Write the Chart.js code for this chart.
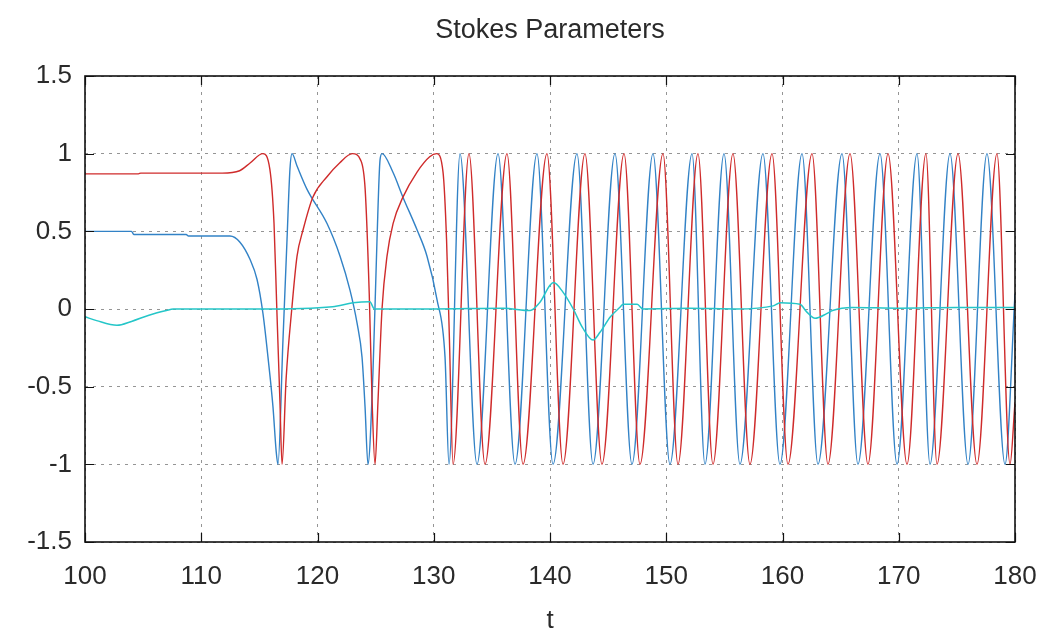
<!DOCTYPE html>
<html>
<head>
<meta charset="utf-8">
<title>Stokes Parameters</title>
<script src="https://cdn.jsdelivr.net/npm/chart.js@4/dist/chart.umd.min.js"></script>
<style>
  html, body { margin: 0; padding: 0; background: #fff; }
  #wrap { width: 1043px; height: 637px; }
</style>
</head>
<body>
<div id="wrap"><canvas id="chart" width="1043" height="637"></canvas></div>
<script>
// Axis ticks
const xTicks = [100, 110, 120, 130, 140, 150, 160, 170, 180];
const yTicks = [-1.5, -1, -0.5, 0, 0.5, 1, 1.5];
const xTickLabels = ['100', '110', '120', '130', '140', '150', '160', '170', '180'];
const yTickLabels = ['-1.5', '-1', '-0.5', '0', '0.5', '1', '1.5'];

// S1 (red)
const s1T = [100, 104.6, 104.8, 111.8, 113.3, 114.2, 115.3, 115.9, 116.26, 116.5, 116.77, 116.95,
  117.3, 117.8, 118.24, 118.76, 119.6, 120.8, 121.9, 123.0, 123.7, 124.1, 124.45, 124.7, 124.95,
  125.2, 125.55, 125.98, 126.5, 127.35, 128.55, 129.65, 130.25, 130.8, 131.1, 131.35, 131.66,
  133.03, 134.41, 136.30, 137.68, 139.74, 141.12, 143.01, 144.47, 146.37, 147.74, 149.72, 151.01,
  152.73, 154.02, 155.74, 157.20, 159.10, 160.47, 162.54, 163.91, 165.81, 167.35, 169.08, 170.71,
  172.34, 173.29, 175.10, 176.73, 178.45, 179.57, 180];
const s1V = [0.87, 0.87, 0.875, 0.875, 0.89, 0.94, 1.0, 0.9, 0.55, 0.0, -0.6, -1.0,
  -0.45, 0.01, 0.34, 0.51, 0.72, 0.85, 0.94, 1.0, 0.96, 0.77, 0.1, -0.6, -1.0,
  -0.6, 0.0, 0.34, 0.55, 0.72, 0.88, 0.98, 1.0, 0.88, 0.45, -0.2, -1.0,
  1, -1, 1, -1, 1, -1, 1, -1, 1, -1, 1, -1,
  1, -1, 1, -1, 1, -1, 1, -1, 1, -1, 1, -1,
  1, -1, 1, -1, 1, -1, -0.6];

// S2 (blue)
const s2T = [100, 104.0, 104.2, 108.7, 108.9, 112.47, 113.33, 114.19, 114.8, 115.31, 115.74, 116.17,
  116.45, 116.6, 117.03, 117.38, 117.63, 117.81, 118.24, 119.1, 120.82, 121.94, 122.8,
  123.4, 123.83, 124.09, 124.34, 124.77, 125.12, 125.38, 125.55, 126.49, 127.35, 128.56, 129.42,
  130.28, 130.97, 131.31,
  132.26, 133.72, 135.53, 136.99, 138.88, 140.26, 142.32, 143.70, 145.59, 147.05, 148.86, 150.32,
  152.22, 153.33, 154.97, 156.34, 158.32, 159.78, 161.68, 163.05, 165.12, 166.49, 168.39, 169.85,
  171.57, 172.69, 174.41, 175.96, 177.59, 179.14, 180];
const s2V = [0.5, 0.5, 0.48, 0.48, 0.47, 0.47, 0.43, 0.32, 0.19, -0.03, -0.31, -0.63,
  -0.92, -1.0, -0.2, 0.45, 0.9, 1.0, 0.92, 0.77, 0.55, 0.34, 0.12,
  -0.09, -0.31, -0.63, -1.0, -0.41, 0.45, 0.96, 1.0, 0.88, 0.72, 0.51, 0.34,
  0.06, -0.31, -1.0,
  1, -1, 1, -1, 1, -1, 1, -1, 1, -1, 1, -1,
  1, -1, 1, -1, 1, -1, 1, -1, 1, -1, 1, -1,
  1, -1, 1, -1, 1, -1, 0.1];

// S3 (cyan)
const s3T = [100, 101, 102.75, 104, 105.5, 107, 107.6, 115, 121.3, 123.05, 124.5, 124.9, 130,
  136, 138.3, 139.1, 140.3, 141.1, 142.0, 142.8, 143.7, 144.3, 145.2, 146.0, 146.3, 147.5, 148.0,
  152, 156, 159.2, 159.8, 161.5, 162.1, 162.8, 163.8, 164.3, 166, 170, 175, 180];
const s3V = [-0.05, -0.075, -0.105, -0.08, -0.04, -0.01, 0, 0, 0.015, 0.04, 0.047, 0, 0,
  0.005, -0.01, 0.04, 0.17, 0.11, 0.0, -0.12, -0.2, -0.15, -0.05, 0.01, 0.03, 0.03, 0,
  0.005, 0, 0.02, 0.04, 0.03, -0.02, -0.06, -0.03, -0.01, 0.01, 0.005, 0.01, 0.01];

const toPoints = (ts, vs) => ts.map((t, i) => ({ x: t, y: vs[i] }));

const FONT = "'Liberation Sans', Arial, sans-serif";
const TEXT = '#2a2a2a';
const TITLE = 'Stokes Parameters';

// Title centred over the plot area
const titlePlugin = {
  id: 'plotTitle',
  afterDraw(chart) {
    const { ctx, chartArea: a } = chart;
    ctx.save();
    ctx.fillStyle = TEXT;
    ctx.font = `normal 27px ${FONT}`;
    ctx.textAlign = 'center';
    ctx.textBaseline = 'middle';
    ctx.fillText(TITLE, (a.left + a.right) / 2, 31);
    ctx.restore();
  }
};

// Black frame with inward ticks on all four sides
const framePlugin = {
  id: 'frame',
  afterDraw(chart) {
    const { ctx, chartArea: a, scales: { x, y } } = chart;
    ctx.save();
    ctx.strokeStyle = '#111';
    ctx.lineWidth = 1.2;
    ctx.beginPath();
    x.ticks.forEach(t => {
      const px = Math.round(x.getPixelForValue(t.value)) + 0.5;
      ctx.moveTo(px, a.bottom); ctx.lineTo(px, a.bottom - 9);
      ctx.moveTo(px, a.top); ctx.lineTo(px, a.top + 9);
    });
    y.ticks.forEach(t => {
      const py = Math.round(y.getPixelForValue(t.value)) + 0.5;
      ctx.moveTo(a.left, py); ctx.lineTo(a.left + 9, py);
      ctx.moveTo(a.right, py); ctx.lineTo(a.right - 9, py);
    });
    ctx.stroke();
    ctx.lineWidth = 1.6;
    ctx.strokeRect(a.left, a.top, a.right - a.left, a.bottom - a.top);
    ctx.restore();
  }
};

const gridOpts = { color: 'rgba(130,130,130,0.85)', lineWidth: 1, drawTicks: false };

new Chart(document.getElementById('chart'), {
  type: 'line',
  data: {
    datasets: [
      { label: 'S3', data: toPoints(s3T, s3V), borderColor: '#25c6c8', borderWidth: 1.5, order: 0 },
      { label: 'S1', data: toPoints(s1T, s1V), borderColor: '#cf2b2b', borderWidth: 1.4, order: 1 },
      { label: 'S2', data: toPoints(s2T, s2V), borderColor: '#3282c6', borderWidth: 1.4, order: 2 }
    ]
  },
  options: {
    responsive: false,
    animation: false,
    devicePixelRatio: 1,
    parsing: false,
    elements: {
      point: { radius: 0 },
      line: { cubicInterpolationMode: 'monotone', fill: false }
    },
    layout: { padding: { left: 0, right: 28, top: 76, bottom: 0 } },
    plugins: {
      legend: { display: false },
      tooltip: { enabled: false },
      title: { display: false }
    },
    scales: {
      x: {
        type: 'linear',
        min: 100,
        max: 180,
        afterBuildTicks: s => { s.ticks = xTicks.map(v => ({ value: v })); },
        afterFit: s => { s.height = 95; s.paddingLeft = 0; s.paddingRight = 0; },
        ticks: {
          autoSkip: false,
          maxRotation: 0,
          padding: 19,
          color: TEXT,
          font: { family: FONT, size: 26 },
          callback: v => xTickLabels[xTicks.indexOf(v)]
        },
        grid: gridOpts,
        border: { display: false, dash: [3, 5] },
        title: {
          display: true,
          text: 't',
          color: TEXT,
          font: { family: FONT, size: 26 },
          padding: { top: 0, bottom: 1 }
        }
      },
      y: {
        type: 'linear',
        min: -1.5,
        max: 1.5,
        afterBuildTicks: s => { s.ticks = yTicks.map(v => ({ value: v })); },
        afterFit: s => { s.width = 85; s.paddingTop = 0; s.paddingBottom = 0; },
        ticks: {
          autoSkip: false,
          padding: 13,
          color: TEXT,
          font: { family: FONT, size: 26 },
          callback: v => yTickLabels[yTicks.indexOf(v)]
        },
        grid: gridOpts,
        border: { display: false, dash: [3, 5] }
      }
    }
  },
  plugins: [framePlugin, titlePlugin]
});
</script>
</body>
</html>
